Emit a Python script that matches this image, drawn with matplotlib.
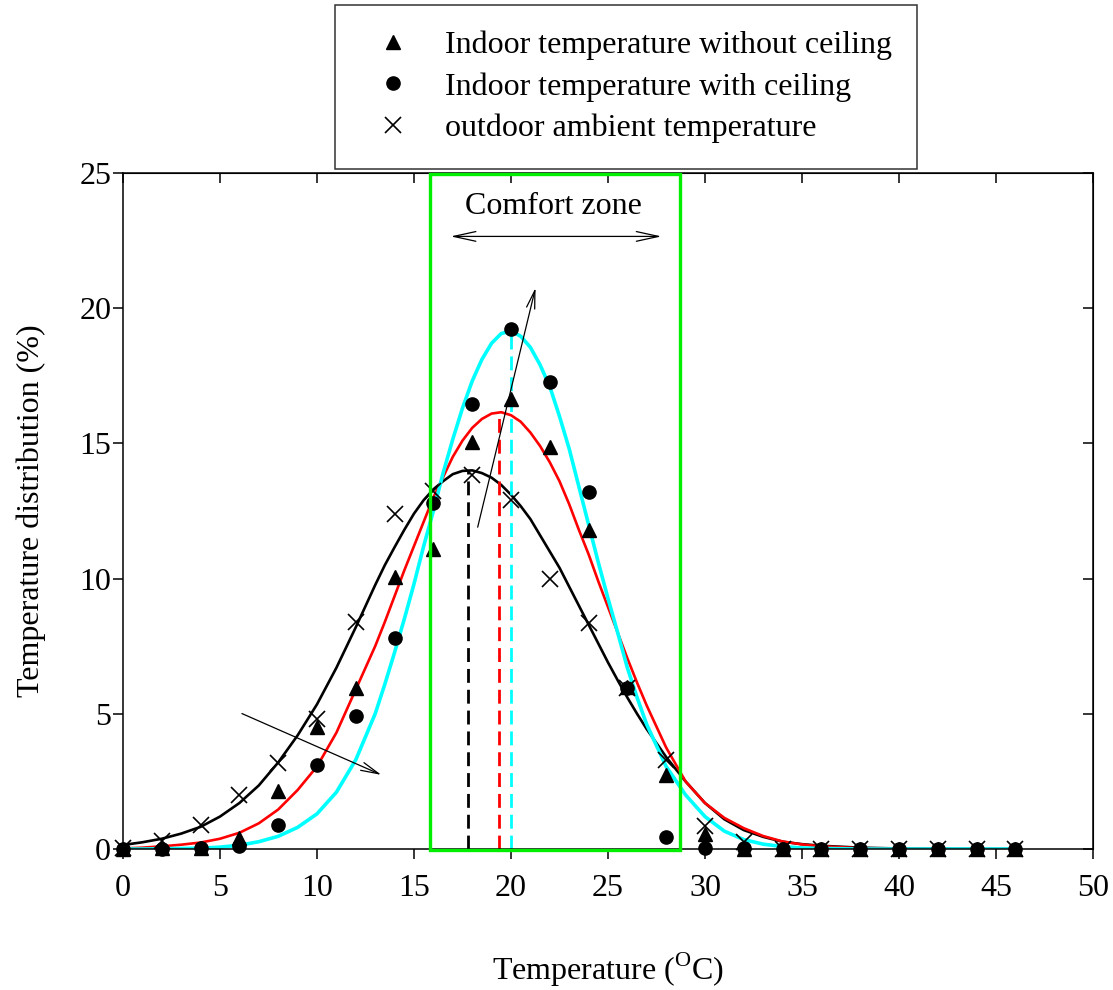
import numpy as np
import matplotlib
matplotlib.use("Agg")
import matplotlib.pyplot as plt
from matplotlib.patches import Rectangle

plt.rcParams["font.family"] = ["Liberation Serif", "DejaVu Serif"]
plt.rcParams["mathtext.fontset"] = "custom"
plt.rcParams["mathtext.rm"] = "Liberation Serif"

# 1. Measured points (every 2 degC)
temp_pts = np.arange(0, 47, 2)
without_ceiling = [0, 0.05, 0.05, 0.4, 2.15, 4.5, 5.95, 10.05, 11.1, 15.05, 16.65, 14.85,
                   11.8, 6.0, 2.75, 0.55, 0, 0, 0, 0, 0, 0, 0, 0]
with_ceiling = [0, 0, 0.03, 0.12, 0.88, 3.1, 4.9, 7.8, 12.78, 16.47, 19.22, 17.27,
                13.2, 5.95, 0.45, 0.05, 0.03, 0, 0, 0, 0, 0, 0, 0]
outdoor = [0.05, 0.3, 0.9, 2.0, 3.17, 4.82, 8.4, 12.38, 13.25, 13.82, 12.9, 10.0,
           8.35, 5.95, 3.3, 0.85, 0.25, 0, 0, 0, 0, 0, 0, 0]

# 2. Fitted distribution curves
curve_x = (list(range(0, 13)) + list(np.arange(13, 27.5, 0.5))
           + list(range(28, 37)) + [38, 40, 42, 44, 46])
fit_outdoor = ([0.15, 0.25, 0.38, 0.57, 0.82, 1.2, 1.7, 2.35, 3.2, 4.2, 5.35, 6.7, 8.2]
               + [9.76, 10.5, 11.16, 11.8, 12.4, 12.9, 13.3, 13.6, 13.86, 13.98, 14.0, 13.9,
                  13.73, 13.46, 13.1, 12.68, 12.2, 11.6, 11.0, 10.4, 9.7, 9.0, 8.3, 7.6,
                  6.9, 6.24, 5.6, 5.0, 4.43]
               + [3.4, 2.5, 1.7, 1.1, 0.7, 0.45, 0.27, 0.18, 0.12]
               + [0.05, 0.02, 0.01, 0, 0])
fit_without = ([0.02, 0.05, 0.1, 0.16, 0.24, 0.38, 0.6, 0.95, 1.46, 2.18, 3.05, 4.3, 5.9]
               + [7.5, 8.4, 9.35, 10.3, 11.2, 12.1, 13.0, 13.75, 14.5, 15.1, 15.57, 15.9,
                  16.1, 16.15, 16.04, 15.8, 15.4, 14.9, 14.3, 13.6, 12.75, 11.8, 10.9, 9.9,
                  8.95, 8.0, 7.05, 6.15, 5.3]
               + [3.75, 2.5, 1.7, 1.15, 0.77, 0.48, 0.28, 0.17, 0.1]
               + [0.03, 0.01, 0, 0, 0])
fit_with = ([0, 0, 0.01, 0.02, 0.03, 0.07, 0.14, 0.27, 0.47, 0.8, 1.3, 2.1, 3.3]
            + [5.0, 6.1, 7.27, 8.5, 9.8, 11.2, 12.5, 13.9, 15.15, 16.3, 17.3, 18.1,
               18.7, 19.06, 19.15, 18.96, 18.55, 17.9, 17.1, 16.0, 14.8, 13.4, 12.0, 10.6,
               9.27, 8.0, 6.7, 5.6, 4.6]
            + [3.05, 2.0, 1.2, 0.66, 0.35, 0.18, 0.09, 0.04, 0.02]
            + [0, 0, 0, 0, 0])

# peak positions of the fits
peak_x = [17.8, 19.4, 20.0]
peak_y = [14.0, 16.15, 19.1]

comfort_lo, comfort_hi = 15.8, 28.7

fig = plt.figure(figsize=(11.13, 9.9), dpi=100)
ax = fig.add_axes([0.1105, 0.1424, 0.8715, 0.683])

# 3. Curves
ax.plot(curve_x, fit_outdoor, color="black", lw=1.9)
ax.plot(curve_x, fit_without, color="red", lw=1.9)
ax.plot(curve_x, fit_with, color="#00ffff", lw=2.6)

# dashed peak lines
for px, py, c in zip(peak_x, peak_y, ["black", "red", "#00ffff"]):
    ax.plot([px, px], [0, py], color=c, lw=2.0, ls=(0, (5, 2.5)))

# 4. Points
ax.plot(temp_pts, without_ceiling, "^", color="black", ms=10, ls="none", clip_on=False,
        label="Indoor temperature without ceiling")
ax.plot(temp_pts, with_ceiling, "o", color="black", ms=9.5, ls="none", clip_on=False,
        label="Indoor temperature with ceiling")
ax.plot(temp_pts, outdoor, "x", color="black", ms=11, mew=1.2, ls="none", clip_on=False,
        label="outdoor ambient temperature")

# comfort zone box
ax.add_patch(Rectangle((comfort_lo, -0.05), comfort_hi - comfort_lo, 25.0,
                       fill=False, edgecolor="#00ee00", lw=2.4, clip_on=False, zorder=3))
ax.annotate("", xy=(16.75, 22.65), xytext=(27.9, 22.65),
            arrowprops=dict(arrowstyle="<->,head_length=1.6,head_width=0.35", lw=0.9, color="black"))
ax.text(22.2, 23.75, "Comfort zone", ha="center", va="center", fontsize=23)

# trend arrows
ax.annotate("", xy=(21.3, 20.85), xytext=(18.25, 11.8),
            arrowprops=dict(arrowstyle="->,head_length=1.3,head_width=0.3", lw=0.9, color="black"))
ax.annotate("", xy=(13.45, 2.7), xytext=(6.0, 5.05),
            arrowprops=dict(arrowstyle="->,head_length=1.3,head_width=0.3", lw=0.9, color="black"))

# 5. Axes
ax.set_xlim(0, 50)
ax.set_ylim(0, 25)
ax.set_xticks(np.arange(0, 51, 5))
ax.set_yticks(np.arange(0, 26, 5))
ax.tick_params(axis="both", which="both", direction="out", length=7, width=1.1, labelsize=23)
ax.tick_params(axis="x", pad=11)
ax.tick_params(axis="y", pad=1.5)
for s in ax.spines.values():
    s.set_linewidth(1.1)

# inward ticks on top and right
top = ax.secondary_xaxis("top")
top.set_xticks(np.arange(0, 51, 5))
top.tick_params(direction="in", length=7, width=1.1, labeltop=False)
right = ax.secondary_yaxis("right")
right.set_yticks(np.arange(0, 26, 5))
right.tick_params(direction="in", length=7, width=1.1, labelright=False)

ax.set_xlabel(r"Temperature ($^{\rm O}$C)", fontsize=23, labelpad=34)
ax.set_ylabel("Temperature distribution (%)", fontsize=23, labelpad=24)

leg = fig.legend(loc="upper left", bbox_to_anchor=(0.301, 0.995), fontsize=23,
                 frameon=True, fancybox=False, edgecolor="black", borderpad=0.8,
                 labelspacing=0.38, handletextpad=0.64, handlelength=2.0, borderaxespad=0)
leg.get_frame().set_linewidth(1.1)

plt.savefig("out.png", dpi=100)
